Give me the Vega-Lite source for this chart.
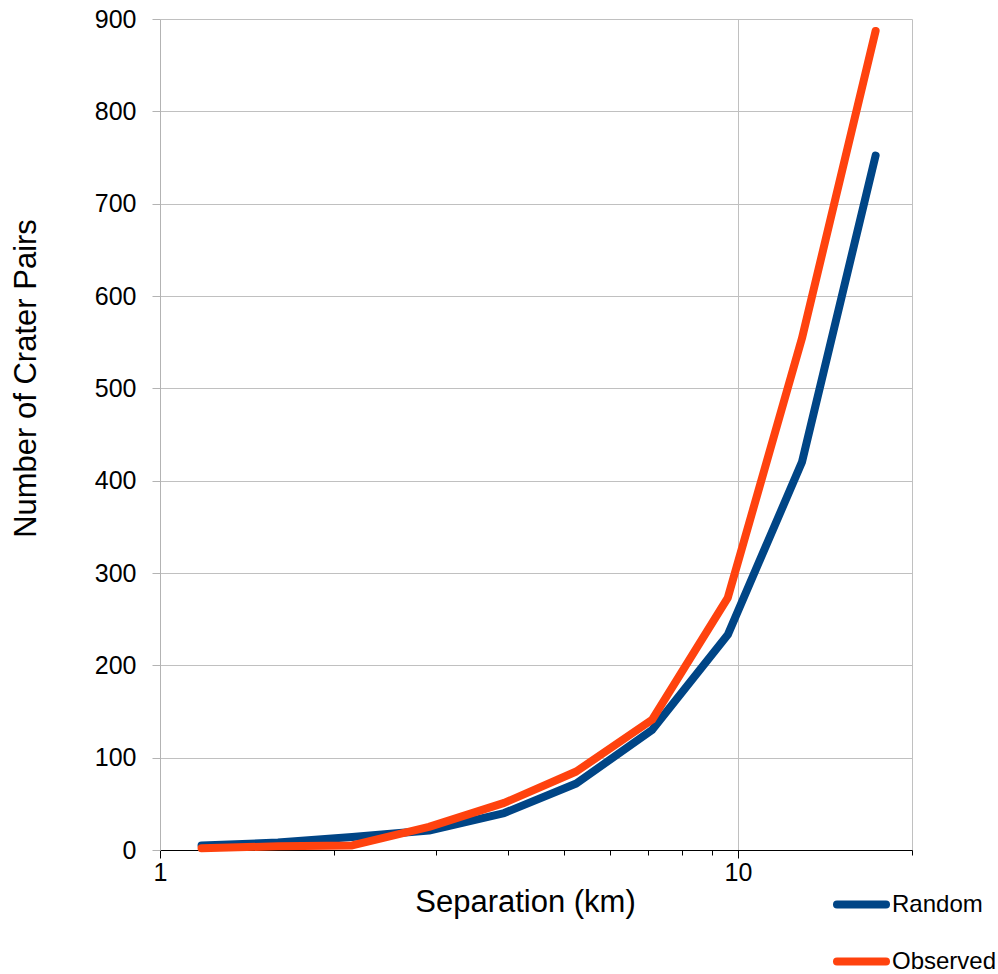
{
  "$schema": "https://vega.github.io/schema/vega-lite/v6.json",
  "width": 752,
  "height": 831,
  "autosize": "none",
  "padding": {"left": 160, "top": 19, "right": 86, "bottom": 124},
  "background": "white",
  "config": {"view": {"stroke": null}, "font": "Liberation Sans"},
  "data": {
    "values": [
      {"separation": 1.18, "pairs": 5, "series": "Random"},
      {"separation": 1.6, "pairs": 8, "series": "Random"},
      {"separation": 2.15, "pairs": 14, "series": "Random"},
      {"separation": 2.92, "pairs": 21, "series": "Random"},
      {"separation": 3.94, "pairs": 40, "series": "Random"},
      {"separation": 5.25, "pairs": 72, "series": "Random"},
      {"separation": 7.1, "pairs": 130, "series": "Random"},
      {"separation": 9.6, "pairs": 233, "series": "Random"},
      {"separation": 12.9, "pairs": 420, "series": "Random"},
      {"separation": 17.3, "pairs": 752, "series": "Random"},
      {"separation": 1.18, "pairs": 2, "series": "Observed"},
      {"separation": 1.6, "pairs": 4, "series": "Observed"},
      {"separation": 2.15, "pairs": 5, "series": "Observed"},
      {"separation": 2.92, "pairs": 25, "series": "Observed"},
      {"separation": 3.94, "pairs": 51, "series": "Observed"},
      {"separation": 5.25, "pairs": 85, "series": "Observed"},
      {"separation": 7.1, "pairs": 141, "series": "Observed"},
      {"separation": 9.6, "pairs": 273, "series": "Observed"},
      {"separation": 12.9, "pairs": 554, "series": "Observed"},
      {"separation": 17.3, "pairs": 887, "series": "Observed"}
    ]
  },
  "encoding": {
    "x": {
      "field": "separation",
      "type": "quantitative",
      "scale": {"type": "log", "domain": [1, 20], "nice": false},
      "axis": {
        "title": "Separation (km)",
        "titleFontSize": 31,
        "titleFontWeight": "normal",
        "titleColor": "black",
        "titleX": 365,
        "titleY": 61,
        "titleBaseline": "alphabetic",
        "titleAlign": "center",
        "values": [1, 2, 3, 4, 5, 6, 7, 8, 9, 10, 20],
        "labelExpr": "datum.value == 1 ? '1' : (datum.value == 10 ? '10' : '')",
        "labelFontSize": 25,
        "labelColor": "black",
        "labelFlush": false,
        "labelOverlap": false,
        "labelPadding": 2,
        "tickColor": "black",
        "tickSize": {"condition": {"test": "datum.value == 1 || datum.value == 10", "value": 8}, "value": 5},
        "domainColor": "black",
        "domainWidth": 1,
        "grid": true,
        "gridColor": "#c0c0c0",
        "gridOpacity": {"condition": {"test": "datum.value == 10 || datum.value == 20", "value": 1}, "value": 0}
      }
    },
    "y": {
      "field": "pairs",
      "type": "quantitative",
      "scale": {"domain": [0, 900], "nice": false},
      "axis": {
        "title": "Number of Crater Pairs",
        "titleFontSize": 31,
        "titleFontWeight": "normal",
        "titleColor": "black",
        "titleX": -134,
        "titleY": 359,
        "titleAngle": -90,
        "titleAlign": "center",
        "titleBaseline": "middle",
        "values": [0, 100, 200, 300, 400, 500, 600, 700, 800, 900],
        "labelFontSize": 25,
        "labelColor": "black",
        "labelPadding": 16,
        "tickColor": "#b3b3b3",
        "tickSize": 8,
        "domainColor": "#b3b3b3",
        "grid": true,
        "gridColor": "#c0c0c0"
      }
    },
    "color": {
      "field": "series",
      "type": "nominal",
      "scale": {"domain": ["Random", "Observed"], "range": ["#004586", "#ff420e"]},
      "legend": {
        "orient": "none",
        "legendX": 673,
        "legendY": 857,
        "title": null,
        "padding": 0,
        "symbolType": "stroke",
        "symbolSize": 2401,
        "symbolStrokeWidth": 8,
        "labelFontSize": 24,
        "labelColor": "black",
        "labelOffset": 2,
        "rowPadding": 12,
        "encode": {"symbols": {"update": {"strokeCap": {"value": "round"}}}}
      }
    }
  },
  "layer": [
    {
      "transform": [{"filter": "datum.series == 'Random'"}],
      "mark": {"type": "line", "strokeWidth": 8, "strokeCap": "round", "strokeJoin": "round"}
    },
    {
      "transform": [{"filter": "datum.series == 'Observed'"}],
      "mark": {"type": "line", "strokeWidth": 8, "strokeCap": "round", "strokeJoin": "round"}
    }
  ]
}
